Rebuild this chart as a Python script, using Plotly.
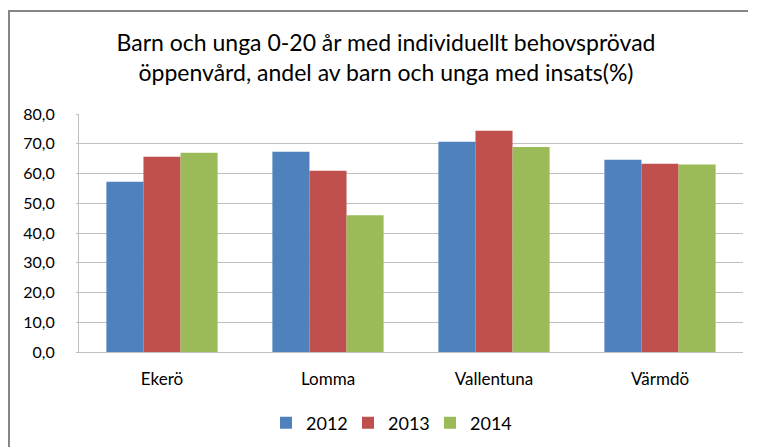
import plotly.graph_objects as go

categories = ["Ekerö", "Lomma", "Vallentuna", "Värmdö"]
years = ["2012", "2013", "2014"]
values_2012 = [57.2, 67.3, 70.7, 64.6]
values_2013 = [65.6, 60.9, 74.4, 63.3]
values_2014 = [67.0, 46.0, 68.9, 63.0]
colors = ["#4F81BD", "#C0504D", "#9BBB59"]

title_text = ("Barn och unga 0-20 år med individuellt behovsprövad<br>"
              "öppenvård, andel av barn och unga med insats(%)")

W, H = 757, 447
L, R, T, B = 79, 14, 114, 95
pw, ph = W - L - R, H - T - B


def px_x(x):
    return (x - L) / pw


def px_y(y):
    return (H - B - y) / ph


fig = go.Figure()
for name, vals, col in zip(years, [values_2012, values_2013, values_2014], colors):
    fig.add_trace(go.Bar(x=categories, y=vals, name=name,
                         marker=dict(color=col, line=dict(width=0))))

font_family = "Lato, 'Open Sans', sans-serif"
frame = dict(color="#868686", width=2)

fig.update_layout(
    width=W, height=H,
    margin=dict(l=L, r=R, t=T, b=B, autoexpand=False),
    paper_bgcolor="white", plot_bgcolor="white",
    barmode="group", bargap=0.33, bargroupgap=0,
    separators=", ",
    font=dict(family=font_family, color="#000000", size=15),
    title=dict(text=title_text, xref="container", x=386 / W, xanchor="center",
               y=1 - 51 / H, yanchor="middle",
               font=dict(size=23, family=font_family, color="#000000")),
    showlegend=True,
    legend=dict(orientation="h", x=px_x(389), xanchor="center",
                y=px_y(423), yanchor="middle",
                font=dict(size=18, family=font_family),
                itemwidth=30, entrywidth=37, entrywidthmode="pixels",
                traceorder="normal"),
    shapes=[
        # chart frame: left and top edges
        dict(type="line", xref="paper", yref="paper",
             x0=px_x(9), y0=px_y(10), x1=px_x(9), y1=px_y(H), line=frame),
        dict(type="line", xref="paper", yref="paper",
             x0=px_x(8), y0=px_y(11), x1=px_x(748), y1=px_y(11), line=frame),
    ],
)

fig.update_yaxes(range=[0, 80], dtick=10, tickformat=".1f",
                 showgrid=True, gridcolor="#BFBFBF", gridwidth=1,
                 showline=True, linecolor="#BFBFBF", linewidth=1,
                 ticks="outside", ticklen=2, tickcolor="#BFBFBF",
                 ticklabelstandoff=18, zeroline=False, fixedrange=True,
                 tickfont=dict(size=16))
fig.update_xaxes(showline=True, linecolor="#BFBFBF", linewidth=1,
                 ticks="", ticklabelstandoff=12, fixedrange=True,
                 tickfont=dict(size=17))

fig.write_html(
    "out.html",
    config={"displayModeBar": False},
    post_script="document.body.style.margin='0';document.body.style.overflow='hidden';",
)
